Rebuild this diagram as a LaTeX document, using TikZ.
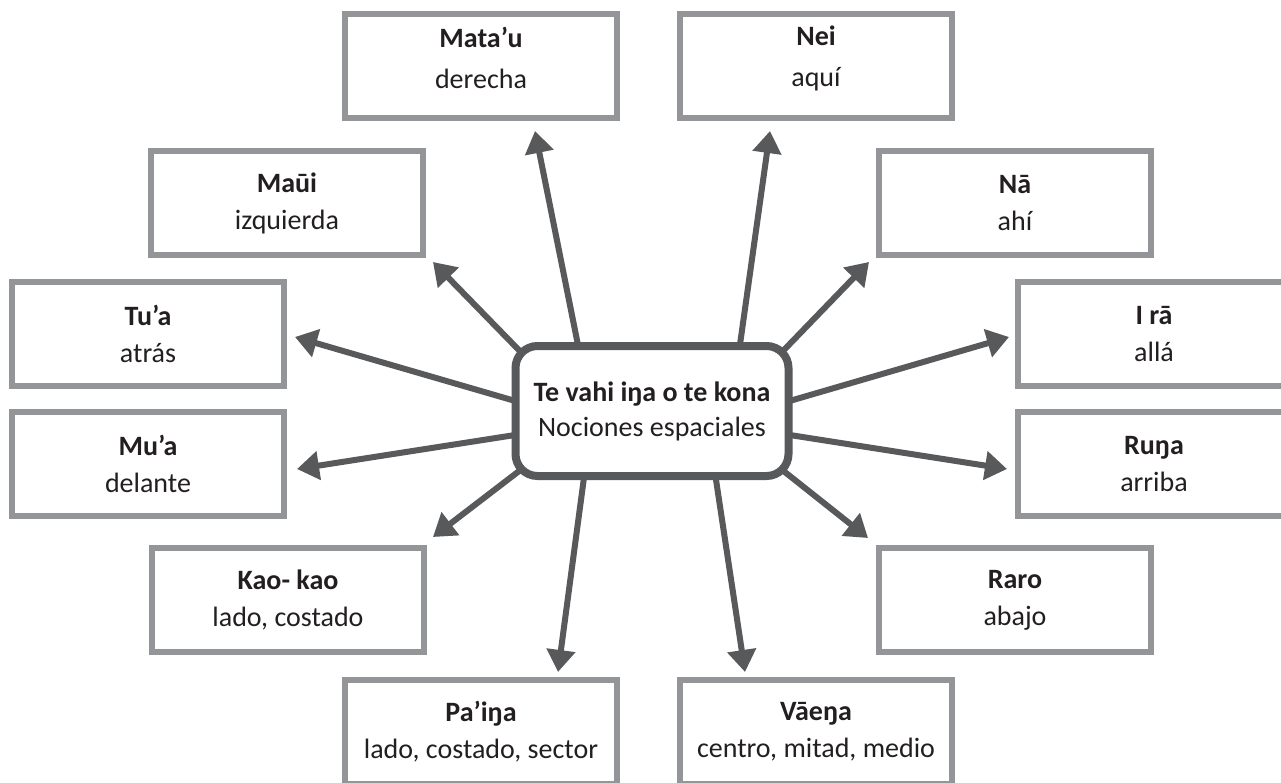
\documentclass[tikz,border=0pt]{standalone}
\usepackage{fontspec}
\setmainfont{Carlito}
\usetikzlibrary{arrows.meta,backgrounds}
\definecolor{boxgray}{HTML}{939598}
\definecolor{arrgray}{HTML}{58595B}
\definecolor{ink}{HTML}{231F20}
\tikzset{
  term/.style={draw=boxgray, line width=6pt, fill=white, minimum width=272pt, minimum height=104pt,
    inner sep=0pt, align=center, font=\fontsize{28}{37}\selectfont, text=ink},
  termtext/.style={inner sep=0pt, align=center, font=\fontsize{28}{41}\selectfont, text=ink},
  hub/.style={draw=arrgray, line width=8pt, rounded corners=22pt, fill=white, minimum width=273pt,
    minimum height=130pt, inner sep=0pt, align=center, font=\fontsize{28}{35}\selectfont, text=ink},
  link/.style={draw=arrgray, line width=6pt, -{Triangle[length=22pt,width=28pt]}},
}
\begin{document}
\begin{tikzpicture}[x=1pt,y=-1pt]
\useasboundingbox (0,0) rectangle (1281,783);
\node[hub] (hub) at (652,411) {\textbf{Te vahi iŋa o te kona}\\Nociones espaciales};
\node[term] (mata) at (481,66) {};
\node[termtext] (matat) at (481,58) {\textbf{Mata’u}\\derecha};
\node[term] (nei) at (816,66) {};
\node[termtext] (neit) at (816,58) {\textbf{Nei}\\aquí};
\node[term] (maui) at (287,203) {\textbf{Maūi}\\izquierda};
\node[term] (na) at (1015,203) {\textbf{Nā}\\ahí};
\node[term] (tua) at (148,334) {\textbf{Tu’a}\\atrás};
\node[term] (ira) at (1154,334) {\textbf{I rā}\\allá};
\node[term] (mua) at (148,464) {\textbf{Mu’a}\\delante};
\node[term] (runa) at (1154,464) {\textbf{Ruŋa}\\arriba};
\node[term] (kao) at (288,600) {\textbf{Kao- kao}\\lado, costado};
\node[term] (raro) at (1015,600) {\textbf{Raro}\\abajo};
\node[term] (paina) at (481,732) {\textbf{Pa’iŋa}\\lado, costado, sector};
\node[term] (vaena) at (816,732) {\textbf{Vāeŋa}\\centro, mitad, medio};
\begin{scope}[on background layer]
  \fill[white] (0,0) rectangle (1281,783);
  \coordinate (s1) at (585,380);  \coordinate (t1) at (535,131);
  \coordinate (s2) at (735,380);  \coordinate (t2) at (770,131);
  \coordinate (s3) at (550,382);  \coordinate (t3) at (433,262);
  \coordinate (s4) at (753,382);  \coordinate (t4) at (869,262);
  \coordinate (s5) at (560,414);  \coordinate (t5) at (295,337);
  \coordinate (s6) at (745,414);  \coordinate (t6) at (1009,337);
  \coordinate (s7) at (560,428);  \coordinate (t7) at (297,469);
  \coordinate (s8) at (745,428);  \coordinate (t8) at (1007,469);
  \coordinate (s9) at (557,442);  \coordinate (t9) at (433,537);
  \coordinate (s10) at (747,442); \coordinate (t10) at (868,538);
  \coordinate (s11) at (589,440); \coordinate (t11) at (558,672);
  \coordinate (s12) at (710,440); \coordinate (t12) at (745,672);
  \foreach \i in {1,...,12} { \draw[link] (s\i) -- (t\i); }
\end{scope}
\end{tikzpicture}
\end{document}
